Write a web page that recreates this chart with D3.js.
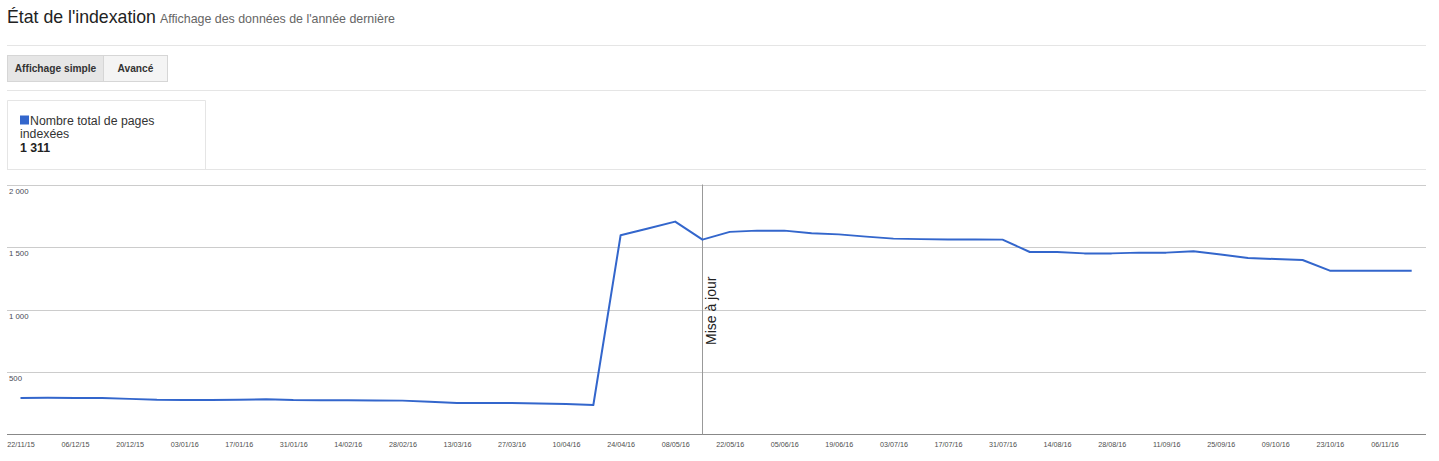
<!DOCTYPE html>
<html><head><meta charset="utf-8">
<script src="https://cdn.jsdelivr.net/npm/d3@7/dist/d3.min.js"></script>
<style>
body{margin:0;background:#fff;}
svg{display:block;font-family:Arial,"Liberation Sans",sans-serif;}
</style></head><body>
<svg id="c" width="1439" height="461"></svg>
<script>
const weeks = ["22/11/15","29/11/15","06/12/15","13/12/15","20/12/15","27/12/15","03/01/16","10/01/16","17/01/16","24/01/16","31/01/16","07/02/16","14/02/16","21/02/16","28/02/16","06/03/16","13/03/16","20/03/16","27/03/16","03/04/16","10/04/16","17/04/16","24/04/16","01/05/16","08/05/16","15/05/16","22/05/16","29/05/16","05/06/16","12/06/16","19/06/16","26/06/16","03/07/16","10/07/16","17/07/16","24/07/16","31/07/16","07/08/16","14/08/16","21/08/16","28/08/16","04/09/16","11/09/16","18/09/16","25/09/16","02/10/16","09/10/16","16/10/16","23/10/16","30/10/16","06/11/16","13/11/16"];
const indexedPages = [293,294,293,292,285,278,277,277,278,282,276,275,274,273,271,262,252,252,252,248,244,236,1594,1648,1703,1559,1621,1631,1631,1610,1601,1583,1567,1563,1560,1560,1559,1460,1460,1449,1449,1455,1455,1466,1440,1412,1404,1396,1311,1311,1311,1311];
const xTickLabels = ["22/11/15","06/12/15","20/12/15","03/01/16","17/01/16","31/01/16","14/02/16","28/02/16","13/03/16","27/03/16","10/04/16","24/04/16","08/05/16","22/05/16","05/06/16","19/06/16","03/07/16","17/07/16","31/07/16","14/08/16","28/08/16","11/09/16","25/09/16","09/10/16","23/10/16","06/11/16"];
const yTicks = [500,1000,1500,2000];
const annotationDate = "15/05/16";
const annotationText = "Mise à jour";
const seriesName = ["Nombre total de pages","indexées"];
const totalLabel = "1 311";

const parse = d3.timeParse("%d/%m/%y");
const fr = d3.formatLocale({decimal:",",thousands:" ",grouping:[3],currency:["","€"]});
const fmt = fr.format(",d");

const svg = d3.select("#c");
const L = 7, R = 1426;

// Header
svg.append("text").attr("x",7).attr("y",22.5).attr("font-size",17.7).attr("fill","#222").text("État de l'indexation")
  .each(function(){ const w=this.getComputedTextLength();
    svg.append("text").attr("x",7+w+4).attr("y",22.5).attr("font-size",12.4).attr("fill","#666").text("Affichage des données de l'année dernière");});
svg.append("line").attr("x1",L).attr("x2",R).attr("y1",45.5).attr("y2",45.5).attr("stroke","#e5e5e5");

// Buttons
const btns=[{t:"Affichage simple",x:7,w:96,bg:"#e6e6e6"},{t:"Avancé",x:103,w:64,bg:"#f4f4f4"}];
btns.forEach(b=>{
  svg.append("rect").attr("x",b.x+0.5).attr("y",55.5).attr("width",b.w).attr("height",26).attr("fill",b.bg).attr("stroke","#d6d6d6");
  svg.append("text").attr("x",b.x+b.w/2+0.5).attr("y",71.5).attr("text-anchor","middle").attr("font-size",10.2).attr("font-weight","bold").attr("fill","#333").text(b.t);
});
svg.append("line").attr("x1",L).attr("x2",R).attr("y1",90.5).attr("y2",90.5).attr("stroke","#e5e5e5");

// Legend box
svg.append("path").attr("d",`M${L+0.5},169.5V100.5H205.5V169.5`).attr("fill","none").attr("stroke","#e5e5e5");
svg.append("line").attr("x1",L).attr("x2",R).attr("y1",169.5).attr("y2",169.5).attr("stroke","#e5e5e5");
svg.append("rect").attr("x",20).attr("y",115.5).attr("width",9).attr("height",9).attr("fill","#3366cc");
svg.append("text").attr("x",30).attr("y",124.5).attr("font-size",12.3).attr("fill","#333").text(seriesName[0]);
svg.append("text").attr("x",20).attr("y",138).attr("font-size",12.3).attr("fill","#333").text(seriesName[1]);
svg.append("text").attr("x",20).attr("y",152).attr("font-size",12.3).attr("font-weight","bold").attr("fill","#222").text(totalLabel);

// Scales
const x = d3.scaleTime().domain([parse(weeks[0]),parse(weeks[weeks.length-1])]).range([20.5,1411.7]);
const y = d3.scaleLinear().domain([0,2000]).range([434.5,184.5]);

// Gridlines
const g = svg.append("g");
g.selectAll("line.grid").data(yTicks).join("line").attr("class","grid")
  .attr("x1",L).attr("x2",R).attr("y1",d=>Math.round(y(d))+0.5).attr("y2",d=>Math.round(y(d))+0.5).attr("stroke","#cccccc");
g.selectAll("text.yl").data(yTicks).join("text").attr("class","yl")
  .attr("x",9).attr("y",d=>Math.round(y(d))+9).attr("font-size",7.8).attr("fill","#4a4a55").text(d=>fmt(d));

// X axis labels
const xAxis = d3.axisBottom(x).tickValues(xTickLabels.map(parse)).tickSize(0).tickFormat(d3.timeFormat("%d/%m/%y"));
const ax = svg.append("g").attr("transform","translate(0,434.5)").call(xAxis);
ax.select(".domain").remove();
ax.selectAll("text").attr("font-size",7.2).attr("fill","#4d4d4d").attr("font-family","Arial,'Liberation Sans',sans-serif").attr("dy",0).attr("y",12.2);

// Baseline
svg.append("line").attr("x1",L).attr("x2",R).attr("y1",434.5).attr("y2",434.5).attr("stroke","#888");

// Annotation
const ax0 = Math.round(x(parse(annotationDate)))+0.5;
svg.append("line").attr("x1",ax0).attr("x2",ax0).attr("y1",184.5).attr("y2",434.5).attr("stroke","#999");
svg.append("text").attr("transform",`translate(${ax0+13},345) rotate(-90)`).attr("font-size",14).attr("fill","#222").text(annotationText);

// Line
const line = d3.line().x((d,i)=>x(parse(weeks[i]))).y(d=>y(d));
svg.append("path").datum(indexedPages).attr("d",line).attr("fill","none").attr("stroke","#3366cc").attr("stroke-width",2).attr("stroke-linejoin","round");
</script></body></html>
